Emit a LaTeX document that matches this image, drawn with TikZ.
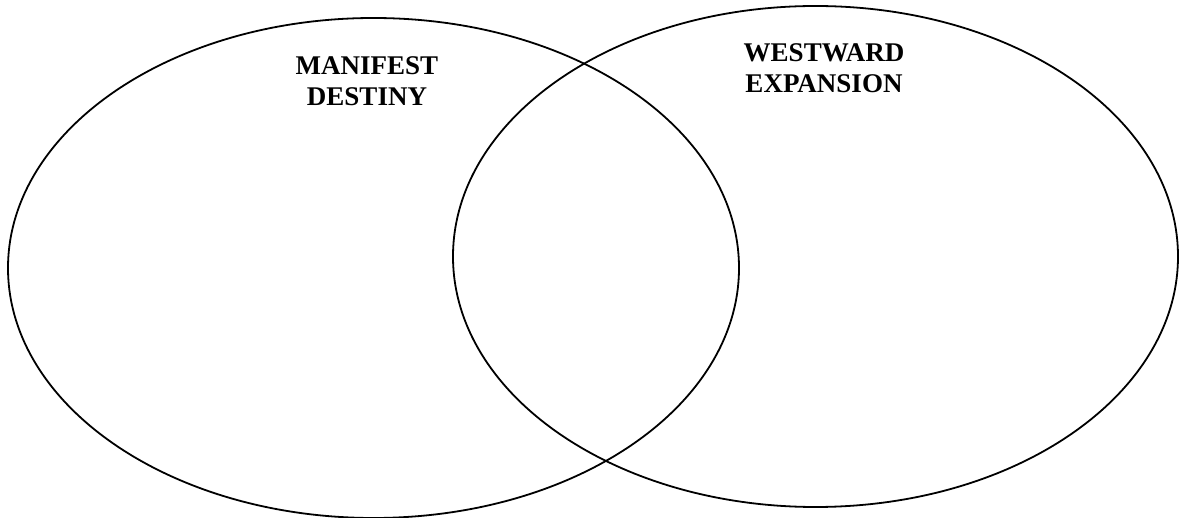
\documentclass[tikz,border=0pt]{standalone}
\usepackage{fontspec}
\setmainfont{Liberation Serif}
\usepackage{tikz}
\usetikzlibrary{positioning, shapes.geometric}

\begin{document}
\begin{tikzpicture}[
        x=1pt, y=-1pt,
        set/.style={ellipse, draw, line width=1.8pt, inner sep=0pt},
        title/.style={align=center, inner sep=0pt, anchor=north, font=\fontsize{27}{31}\selectfont\bfseries},
    ]
        \useasboundingbox (0,0) rectangle (1179,518);
        \node[set, minimum width=731pt, minimum height=500pt] (destiny) at (373.5,268) {};
        \node[set, minimum width=725pt, minimum height=501pt] (expansion) at (815.5,256.5) {};
        \node[title] (destinylabel) at (367,56) {MANIFEST\\DESTINY};
        \node[title] (expansionlabel) at (824,43) {WESTWARD\\EXPANSION};
    \end{tikzpicture}
\end{document}
